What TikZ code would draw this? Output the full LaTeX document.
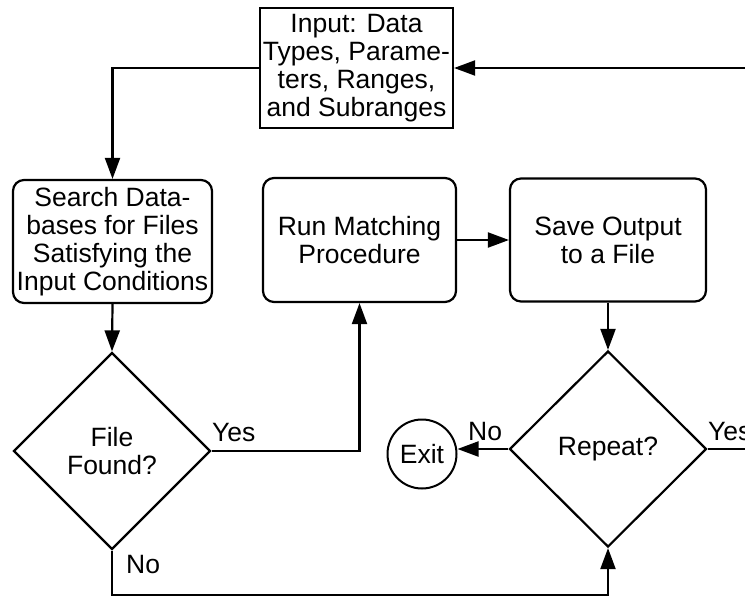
\documentclass[tikz,border=0pt]{standalone}
\usepackage{fontspec}
\setmainfont{Liberation Sans}
\usetikzlibrary{shapes.geometric,arrows.meta,calc}
\begin{document}
\begin{tikzpicture}[x=1pt,y=-1pt,
  every node/.style={font=\fontsize{26.5}{27.8}\selectfont, align=center, inner sep=0pt},
  flow/.style={line width=2.2pt, draw=black},
  arr/.style={flow, -{Triangle[length=21pt,width=15pt]}},
  sqbox/.style={draw, line width=2.2pt, rectangle},
  rbox/.style={draw, line width=2.2pt, rectangle, rounded corners=11pt},
  decision/.style={draw, line width=2.2pt, diamond, aspect=1},
  term/.style={draw, line width=2pt, circle},
  lbl/.style={font=\fontsize{26.5}{27.8}\selectfont}
]
\begin{scope}
\clip (0,0) rectangle (745,597);
\node[sqbox, minimum width=193pt, minimum height=120pt] (input) at (356.5,68)
  {Input: Data\\Types, Parame-\\ters, Ranges,\\and Subranges};
\node[rbox, minimum width=199pt, minimum height=123pt] (search) at (112.5,241.5)
  {Search Data-\\bases for Files\\Satisfying the\\Input Conditions};
\node[rbox, minimum width=193pt, minimum height=124pt] (run) at (359.5,240)
  {Run Matching\\Procedure};
\node[rbox, minimum width=196pt, minimum height=123pt] (save) at (608,240)
  {Save Output\\to a File};
\node[decision, minimum width=197pt, minimum height=197pt] (found) at (112,451)
  {File\\Found?};
\node[decision, minimum width=197pt, minimum height=196pt] (repeat) at (608,449)
  {Repeat?};
\node[term, minimum size=69pt] (exit) at (422,454) {Exit};

\coordinate (bl) at (112,595);
\coordinate (rr) at (760,449);

\draw[arr] (input.west) -| (search.north);
\draw[arr] (search.south) -- (found.north);
\draw[arr] (found.east) -| (run.south);
\draw[arr] (run.east) -- (save.west);
\draw[arr] (save.south) -- (repeat.north);
\draw[arr] (repeat.west) -- (exit.east |- repeat.west);
\draw[arr] (found.south) -- (bl) -| (repeat.south);
\draw[arr] (repeat.east) -- (rr) |- (input.east);

\node[lbl, anchor=west] (yes1) at (212,433) {Yes};
\node[lbl, anchor=west] (no1) at (126,565) {No};
\node[lbl, anchor=west] (no2) at (468,432) {No};
\node[lbl, anchor=west] (yes2) at (708,432) {Yes};
\end{scope}
\pgfresetboundingbox
\useasboundingbox (0,0) rectangle (745,597);
\end{tikzpicture}
\end{document}
